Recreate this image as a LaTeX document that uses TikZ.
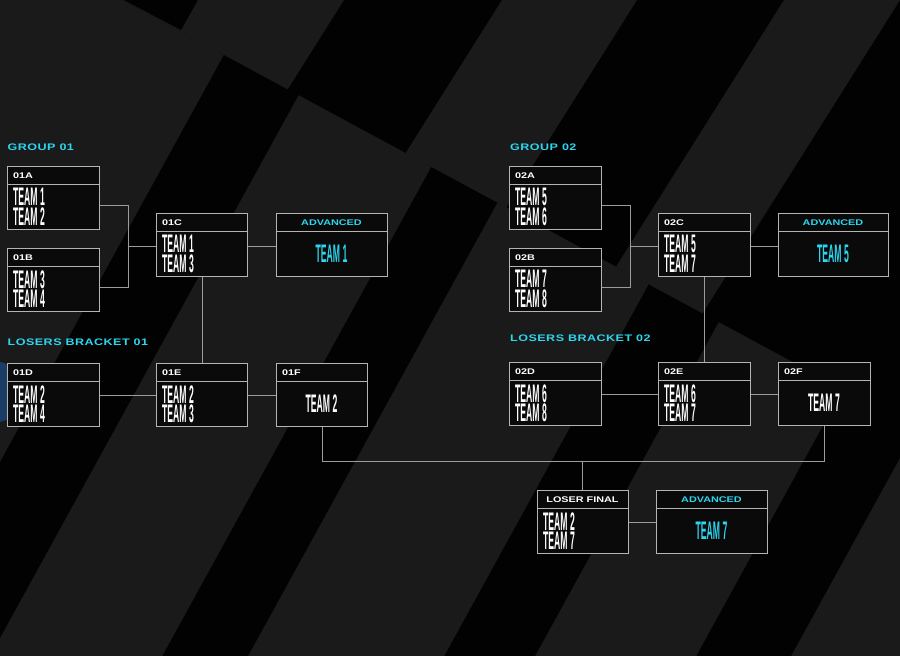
\documentclass[tikz,border=0pt]{standalone}
\usepackage{fontspec}
\setmainfont{Liberation Sans}
\newfontfamily\teamfont[FakeStretch=0.34]{Liberation Sans}
\newfontfamily\widefont[FakeStretch=1.32]{Liberation Sans}
\newfontfamily\secfont[FakeStretch=1.32,LetterSpace=5]{Liberation Sans}
\definecolor{bgblack}{HTML}{020202}
\definecolor{stripe}{HTML}{1A1A1A}
\definecolor{cyanx}{HTML}{2DD6F0}
\definecolor{linegray}{HTML}{B4B4B4}
\definecolor{connx}{HTML}{9C9C9C}
\definecolor{boxfill}{HTML}{0A0A0A}
\tikzset{
 boxst/.style={draw=linegray, line width=1pt, fill=boxfill, inner sep=0pt, rectangle},
 hdrst/.style={draw=linegray, line width=1pt, inner sep=0pt, rectangle},
 hdrtext/.style={font=\widefont\bfseries\fontsize{8.2}{8.2}\selectfont, text=white, inner sep=0pt},
 team/.style={font=\teamfont\bfseries\fontsize{25.4}{25}\selectfont, text=white, inner sep=0pt, text height=17.5pt, text depth=0pt},
 teampair/.style={font=\teamfont\bfseries\fontsize{25.4}{19.5}\selectfont, text=white, inner sep=0pt, align=left, anchor=north west},
 section/.style={font=\secfont\bfseries\fontsize{9.5}{9.5}\selectfont, text=cyanx, inner sep=0pt, anchor=base west},
 conn/.style={draw=connx, line width=1pt},
}
\newcommand{\matchbox}[5]{%
 \node[boxst, minimum width=#4pt, minimum height=63pt, anchor=north west] (#1) at (#2,#3) {};
 \node[hdrst, minimum width=#4pt, minimum height=18pt, anchor=north west] (#1-h) at (#2,#3) {};
 \node[hdrtext, anchor=base west] (#1-l) at (#2+6,#3+12.7) {#5};
}
\newcommand{\twoteams}[5]{%
 \node[teampair] (#1-t) at (#2+6,#3+22.3) {#4\\#5};
}
\begin{document}
\begin{tikzpicture}[x=1pt,y=-1pt]
\useasboundingbox (0,0) rectangle (900,656);
\fill[bgblack] (0,0) rectangle (900,656);
% background stripes, upper phase (above the cut line)
\begin{scope}
\clip (-50,-93) -- (-50,-200) -- (1000,-200) -- (1000,474) -- cycle;
\fill[stripe] (69.6,-20) -- (356.6,-20) -- (-97,700) -- (-384,700) -- cycle;
\fill[stripe] (514.6,-20) -- (649.6,-20) -- (196,700) -- (61,700) -- cycle;
\fill[stripe] (796.6,-20) -- (912.6,-20) -- (459,700) -- (343,700) -- cycle;
\fill[bgblack] (120,-2) -- (199,-2) -- (181,30) -- cycle;
\end{scope}
% background stripes, lower phase
\begin{scope}
\clip (-50,-93) -- (1000,474) -- (1000,800) -- (-50,800) -- cycle;
\fill[stripe] (-247,-20) -- (265,-20) -- (-131,700) -- (-643,700) -- cycle;
\fill[stripe] (362,-20) -- (534,-20) -- (138,700) -- (-34,700) -- cycle;
\fill[stripe] (620,-20) -- (816,-20) -- (420,700) -- (224,700) -- cycle;
\fill[stripe] (907,-20) -- (1068,-20) -- (672,700) -- (511,700) -- cycle;
\fill[stripe] (1163,-20) -- (1353,-20) -- (957,700) -- (767,700) -- cycle;
\end{scope}
\begin{scope}
\clip (0,0) rectangle (900,656);
\fill[cyanx!60!blue, opacity=0.35] (0,362) .. controls (18,364) and (24,392) .. (12,418) -- (0,422) -- cycle;
\end{scope}

% section labels
\node[section] (g1) at (7.5,150.5) {GROUP 01};
\node[section] (g2) at (510,150.5) {GROUP 02};
\node[section] (l1) at (7.5,345) {LOSERS BRACKET 01};
\node[section] (l2) at (510,341) {LOSERS BRACKET 02};

% group 01
\matchbox{o1a}{7}{166}{92}{01A}
\twoteams{o1a}{7}{166}{TEAM 1}{TEAM 2}
\matchbox{o1b}{7}{248}{92}{01B}
\twoteams{o1b}{7}{248}{TEAM 3}{TEAM 4}
\matchbox{o1c}{156}{213}{91}{01C}
\twoteams{o1c}{156}{213}{TEAM 1}{TEAM 3}
\node[boxst, minimum width=111pt, minimum height=63pt, anchor=north west] (adv1) at (276,213) {};
\node[hdrst, minimum width=111pt, minimum height=18pt, anchor=north west] (adv1-h) at (276,213) {};
\node[hdrtext, text=cyanx, anchor=base] (adv1-l) at (331.5,225.7) {ADVANCED};
\node[team, text=cyanx, anchor=base] (adv1-a) at (331.5,262.5) {TEAM 1};

% losers 01
\matchbox{o1d}{7}{363}{92}{01D}
\twoteams{o1d}{7}{363}{TEAM 2}{TEAM 4}
\matchbox{o1e}{156}{363}{91}{01E}
\twoteams{o1e}{156}{363}{TEAM 2}{TEAM 3}
\matchbox{o1f}{276}{363}{91}{01F}
\node[team, anchor=base] (o1f-a) at (321.5,412.5) {TEAM 2};

% group 02
\matchbox{o2a}{509}{166}{92}{02A}
\twoteams{o2a}{509}{166}{TEAM 5}{TEAM 6}
\matchbox{o2b}{509}{248}{92}{02B}
\twoteams{o2b}{509}{248}{TEAM 7}{TEAM 8}
\matchbox{o2c}{658}{213}{92}{02C}
\twoteams{o2c}{658}{213}{TEAM 5}{TEAM 7}
\node[boxst, minimum width=110pt, minimum height=63pt, anchor=north west] (adv2) at (778,213) {};
\node[hdrst, minimum width=110pt, minimum height=18pt, anchor=north west] (adv2-h) at (778,213) {};
\node[hdrtext, text=cyanx, anchor=base] (adv2-l) at (833,225.7) {ADVANCED};
\node[team, text=cyanx, anchor=base] (adv2-a) at (833,262.5) {TEAM 5};

% losers 02
\matchbox{o2d}{509}{362}{92}{02D}
\twoteams{o2d}{509}{362}{TEAM 6}{TEAM 8}
\matchbox{o2e}{658}{362}{92}{02E}
\twoteams{o2e}{658}{362}{TEAM 6}{TEAM 7}
\matchbox{o2f}{778}{362}{92}{02F}
\node[team, anchor=base] (o2f-a) at (824,411.5) {TEAM 7};

% loser final
\node[boxst, minimum width=91pt, minimum height=63pt, anchor=north west] (lf) at (537,490) {};
\node[hdrst, minimum width=91pt, minimum height=18pt, anchor=north west] (lf-h) at (537,490) {};
\node[hdrtext, anchor=base] (lf-l) at (582.5,502.7) {LOSER FINAL};
\twoteams{lf}{537}{490}{TEAM 2}{TEAM 7}
\node[boxst, minimum width=111pt, minimum height=63pt, anchor=north west] (adv3) at (656,490) {};
\node[hdrst, minimum width=111pt, minimum height=18pt, anchor=north west] (adv3-h) at (656,490) {};
\node[hdrtext, text=cyanx, anchor=base] (adv3-l) at (711.5,502.7) {ADVANCED};
\node[team, text=cyanx, anchor=base] (adv3-a) at (711.5,539.5) {TEAM 7};

% connectors
\coordinate (j1) at (128,246);
\coordinate (j2) at (630,246);
\coordinate (j3) at (582,461);
\draw[conn] (o1a.east |- 0,205) -| (j1);
\draw[conn] (o1b.east |- 0,287) -| (j1);
\draw[conn] (j1) -- (o1c.west |- j1);
\draw[conn] (o1c.east |- j1) -- (adv1.west |- j1);
\draw[conn] (o1c.south) -- (o1e.north);
\draw[conn] (o1d.east) -- (o1e.west);
\draw[conn] (o1e.east) -- (o1f.west);

\draw[conn] (o2a.east |- 0,205) -| (j2);
\draw[conn] (o2b.east |- 0,287) -| (j2);
\draw[conn] (j2) -- (o2c.west |- j2);
\draw[conn] (o2c.east |- j2) -- (adv2.west |- j2);
\draw[conn] (o2c.south -| 704,0) -- (o2e.north -| 704,0);
\draw[conn] (o2d.east) -- (o2e.west);
\draw[conn] (o2e.east) -- (o2f.west);

\draw[conn] (o1f.south) |- (j3);
\draw[conn] (o2f.south) |- (j3);
\draw[conn] (j3) -- (lf.north -| j3);
\draw[conn] (lf.east) -- (adv3.west);
\end{tikzpicture}
\end{document}
